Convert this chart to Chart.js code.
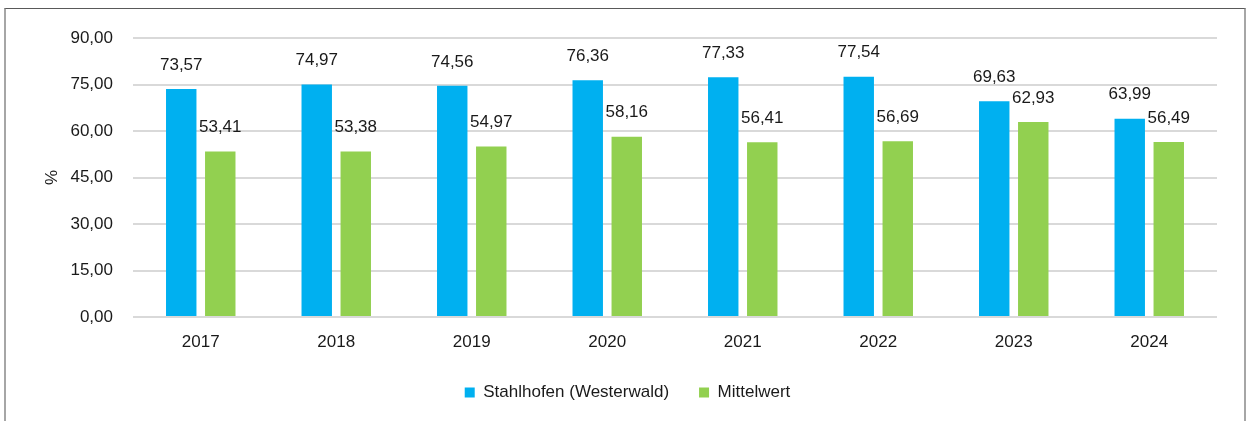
<!DOCTYPE html>
<html lang="de">
<head>
<meta charset="utf-8">
<title>Stahlhofen (Westerwald)</title>
<script src="https://cdn.jsdelivr.net/npm/chart.js@4"></script>
<style>
    html, body { margin: 0; padding: 0; background: #fff; overflow: hidden; }
    #wrap { position: relative; width: 1248px; height: 421px; }
    #frame {
        position: absolute; left: 4px; top: 8px; width: 1242px; height: 440px;
        border-top: 1px solid #595959; border-left: 2px solid #a6a6a6; border-right: 2px solid #a6a6a6;
        box-sizing: border-box; pointer-events: none;
    }
    canvas { position: absolute; left: 0; top: 0; }
</style>
</head>
<body>
<div id="wrap">
    <canvas id="chart" width="1248" height="421"></canvas>
    <div id="frame"></div>
</div>
<script>
    // Values
    const years = ['2017', '2018', '2019', '2020', '2021', '2022', '2023', '2024'];
    const stahlhofen = [73.57, 74.97, 74.56, 76.36, 77.33, 77.54, 69.63, 63.99];
    const mittelwert = [53.41, 53.38, 54.97, 58.16, 56.41, 56.69, 62.93, 56.49];
    const seriesNames = ['Stahlhofen (Westerwald)', 'Mittelwert'];

    const fontFamily = "'Liberation Sans', Arial, sans-serif";
    const textColor = '#1a1a1a';
    const fmt = v => Number(v).toFixed(2).replace('.', ',');

    // draws the value above each bar
    const valueLabels = {
        id: 'valueLabels',
        afterDatasetsDraw(chart) {
            const ctx = chart.ctx;
            ctx.save();
            ctx.font = '17px ' + fontFamily;
            ctx.fillStyle = textColor;
            ctx.textAlign = 'center';
            ctx.textBaseline = 'middle';
            chart.data.datasets.forEach((ds, i) => {
                chart.getDatasetMeta(i).data.forEach((bar, j) => {
                    ctx.fillText(fmt(ds.data[j]), bar.x, bar.y - 24);
                });
            });
            ctx.restore();
        }
    };

    // legend sits lower, give it a fixed height
    const legendHeight = {
        id: 'legendHeight',
        beforeInit(chart) {
            const fit = chart.legend.fit;
            chart.legend.fit = function () {
                fit.call(this);
                this.height = 67;
            };
        }
    };

    Chart.defaults.font.family = fontFamily;
    Chart.defaults.font.size = 17;
    Chart.defaults.color = textColor;

    new Chart(document.getElementById('chart'), {
        type: 'bar',
        data: {
            labels: years,
            datasets: [{
                label: seriesNames[0],
                data: stahlhofen,
                backgroundColor: '#00b0f0',
                categoryPercentage: 0.576,
                barPercentage: 0.78
            }, {
                label: seriesNames[1],
                data: mittelwert,
                backgroundColor: '#92d050',
                categoryPercentage: 0.576,
                barPercentage: 0.78
            }]
        },
        options: {
            responsive: false,
            animation: false,
            layout: { padding: { left: 38, right: 31, top: 38, bottom: 0 } },
            plugins: {
                tooltip: { enabled: false },
                legend: {
                    position: 'bottom',
                    labels: { boxWidth: 10, boxHeight: 10, padding: 30, color: textColor }
                }
            },
            scales: {
                x: {
                    grid: { display: false, drawTicks: false },
                    border: { display: false },
                    ticks: { padding: 15, color: textColor },
                    afterFit(scale) { scale.height = 37; }
                },
                y: {
                    min: 0,
                    max: 90,
                    grid: { color: '#d9d9d9', lineWidth: 2, drawTicks: false },
                    border: { display: false },
                    ticks: { stepSize: 15, padding: 20, color: textColor, callback: v => fmt(v) },
                    title: { display: true, text: '%', color: textColor, font: { size: 17 } },
                    afterFit(scale) { scale.width = 95; }
                }
            }
        },
        plugins: [valueLabels, legendHeight]
    });
</script>
</body>
</html>
